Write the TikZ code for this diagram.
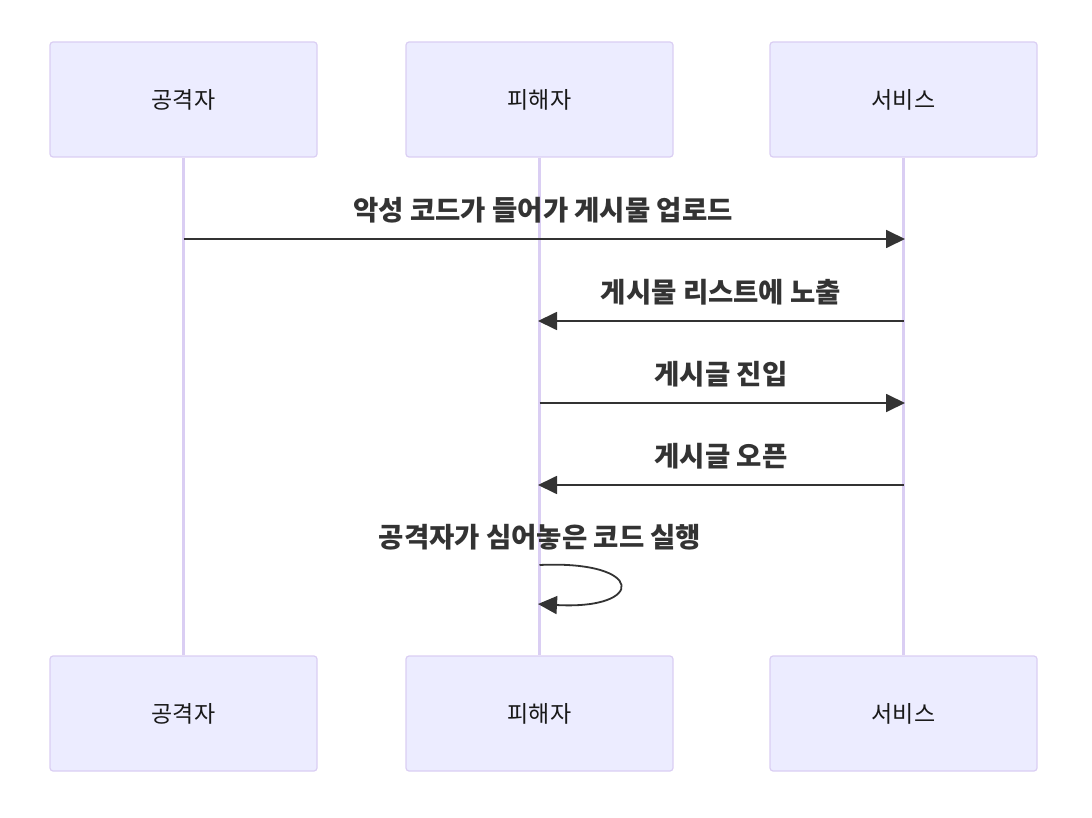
\documentclass[tikz,border=0pt]{standalone}
\usepackage{fontspec}
\setmainfont{Noto Sans CJK KR}
\usepackage{xcolor}
\usepackage{tikz}
\usetikzlibrary{arrows.meta}

\definecolor{actorfill}{HTML}{ECECFF}
\definecolor{actorline}{HTML}{DACEF3}
\definecolor{msgline}{HTML}{333333}

\begin{document}
\begin{tikzpicture}[x=1pt,y=-1pt]
		\tikzstyle{actor}=[draw=actorline,fill=actorfill,line width=1.2pt,minimum width=267pt,minimum height=115pt,rounded corners=3pt,font=\fontsize{23}{27}\selectfont,text=black!90]
		\tikzstyle{lifeline}=[draw=actorline,line width=2.6pt]
		\tikzstyle{msg}=[draw=msgline,line width=1.8pt,-{Triangle[length=19pt,width=18pt]}]
		\tikzstyle{msg_text}=[font=\fontsize{27.5}{32}\selectfont\bfseries,text=msgline]

		\useasboundingbox (0,0) rectangle (1092,818);

		% top and bottom actors
		\node [actor] (atk_top) at (183.5,99.5) {공격자};
		\node [actor] (vic_top) at (539.5,99.5) {피해자};
		\node [actor] (svc_top) at (903.5,99.5) {서비스};
		\node [actor] (atk_bot) at (183.5,713.5) {공격자};
		\node [actor] (vic_bot) at (539.5,713.5) {피해자};
		\node [actor] (svc_bot) at (903.5,713.5) {서비스};

		% lifelines
		\draw [lifeline] (atk_top.south) -- (atk_bot.north);
		\draw [lifeline] (vic_top.south) -- (vic_bot.north);
		\draw [lifeline] (svc_top.south) -- (svc_bot.north);

		% message points
		\coordinate (a1) at (183.5,239);
		\coordinate (s1) at (905,239);
		\coordinate (s2) at (903.5,321);
		\coordinate (v2) at (538,321);
		\coordinate (v3) at (539.5,403);
		\coordinate (s3) at (905,403);
		\coordinate (s4) at (903.5,485);
		\coordinate (v4) at (538,485);
		\coordinate (v5) at (539.5,565);
		\coordinate (v5e) at (538,604);

		\draw [msg] (a1) -- (s1);
		\node [msg_text] (m1) at (543,210) {악성 코드가 들어가 게시물 업로드};

		\draw [msg] (s2) -- (v2);
		\node [msg_text] (m2) at (721,292) {게시물 리스트에 노출};

		\draw [msg] (v3) -- (s3);
		\node [msg_text] (m3) at (721,374) {게시글 진입};

		\draw [msg] (s4) -- (v4);
		\node [msg_text] (m4) at (721,456) {게시글 오픈};

		\draw [msg] (v5) .. controls (646,560) and (646,610) .. (v5e);
		\node [msg_text] (m5) at (540,537) {공격자가 심어놓은 코드 실행};

	\end{tikzpicture}
\end{document}
